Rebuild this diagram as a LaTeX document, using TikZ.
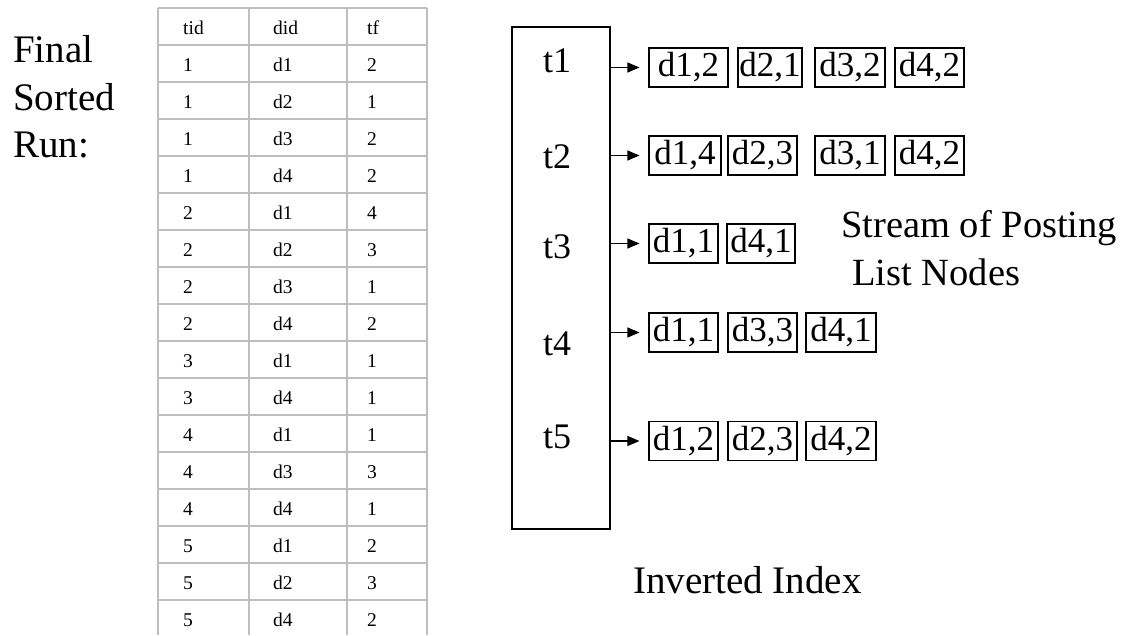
\documentclass[tikz,border=0pt]{standalone}
\usepackage{fontspec}
\setmainfont{Liberation Serif}
\usetikzlibrary{arrows.meta}
\definecolor{gridgray}{RGB}{190,190,190}
\begin{document}
\begin{tikzpicture}[x=1pt,y=-1pt,
  tcell/.style={anchor=base west, inner sep=0pt, font=\fontsize{19.5}{23}\selectfont},
  bigtext/.style={anchor=base west, inner sep=0pt, font=\fontsize{39}{46}\selectfont},
  tlab/.style={anchor=base, inner sep=0pt, font=\fontsize{36}{42}\selectfont},
  pbox/.style={draw, line width=1.1pt, inner sep=0pt, minimum height=39pt, text height=25pt, text depth=7pt, font=\fontsize{35}{40}\selectfont},
  arr/.style={line width=1.1pt, -{Triangle[length=12pt,width=10pt]}, shorten >=9pt},
  tgrid/.style={draw=gridgray, line width=1.3pt}
]
\useasboundingbox (0,0) rectangle (1127,635);
\fill[white] (0,0) rectangle (1127,635);

% ---- table ----
\foreach \k in {0,...,16} \draw[tgrid] (158,{8+37*\k}) -- (427,{8+37*\k});
\foreach \xx in {158,249,347,427} \draw[tgrid] (\xx,8) -- (\xx,635);
\node[tcell] (h1) at (183,34) {tid};
\node[tcell] (h2) at (273,34) {did};
\node[tcell] (h3) at (367,34) {tf};
\foreach [count=\i] \a/\b/\c in {1/d1/2,1/d2/1,1/d3/2,1/d4/2,2/d1/4,2/d2/3,2/d3/1,2/d4/2,3/d1/1,3/d4/1,4/d1/1,4/d3/3,4/d4/1,5/d1/2,5/d2/3,5/d4/2}{
  \node[tcell] (ra\i) at (183,{34+37*\i}) {\a};
  \node[tcell] (rb\i) at (273,{34+37*\i}) {\b};
  \node[tcell] (rc\i) at (367,{34+37*\i}) {\c};
}

% ---- left label ----
\node[bigtext] (lab1) at (13,62) {Final};
\node[bigtext] (lab2) at (13,110) {Sorted};
\node[bigtext] (lab3) at (13,157) {Run:};

% ---- inverted index ----
\node[draw, line width=1.3pt, minimum width=98pt, minimum height=502pt, inner sep=0pt] (idx) at (561,278) {};
\node[tlab] (t1) at (557,72) {t1};
\node[tlab] (t2) at (557,168) {t2};
\node[tlab] (t3) at (557,258) {t3};
\node[tlab] (t4) at (557,355) {t4};
\node[tlab] (t5) at (557,448) {t5};

% row 1
\node[pbox, minimum width=79pt] (p11) at (688.5,67.5) {d1,2};
\node[pbox, minimum width=64pt] (p12) at (770,67.5) {d2,1};
\node[pbox, minimum width=70pt] (p13) at (850,67.5) {d3,2};
\node[pbox, minimum width=69pt] (p14) at (929.5,67.5) {d4,2};
% row 2
\node[pbox, minimum width=72pt] (p21) at (685,155.5) {d1,4};
\node[pbox, minimum width=69pt] (p22) at (762.5,155.5) {d2,3};
\node[pbox, minimum width=70pt] (p23) at (850,155.5) {d3,1};
\node[pbox, minimum width=69pt] (p24) at (929.5,155.5) {d4,2};
% row 3
\node[pbox, minimum width=69pt] (p31) at (683.5,243.5) {d1,1};
\node[pbox, minimum width=68pt] (p32) at (761,243.5) {d4,1};
% row 4
\node[pbox, minimum width=69pt] (p41) at (683.5,332.5) {d1,1};
\node[pbox, minimum width=69pt] (p42) at (762.5,332.5) {d3,3};
\node[pbox, minimum width=70pt] (p43) at (841,332.5) {d4,1};
% row 5
\node[pbox, minimum width=69pt] (p51) at (683.5,441) {d1,2};
\node[pbox, minimum width=69pt] (p52) at (762.5,441) {d2,3};
\node[pbox, minimum width=70pt] (p53) at (841,441) {d4,2};

\foreach \r in {1,...,5} \draw[arr] (idx.east |- p\r1.west) -- (p\r1.west);

\node[bigtext, font=\fontsize{38.5}{44}\selectfont] (s1) at (841,237) {Stream of Posting};
\node[bigtext, font=\fontsize{38.5}{44}\selectfont] (s2) at (852,285) {List Nodes};
\node[bigtext] (inv) at (633,593) {Inverted Index};
\end{tikzpicture}
\end{document}
